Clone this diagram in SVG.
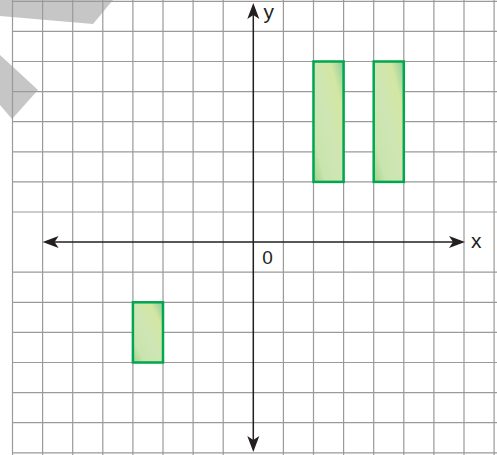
<svg xmlns="http://www.w3.org/2000/svg" width="497" height="455" viewBox="0 0 497 455">
<style>
.grid{stroke:#9a9a9a;stroke-width:1.2;fill:none}
.shade{fill:#c6c6c6}
.bar{stroke:#00a650;stroke-width:2.5;fill:url(#g)}
.axis{stroke:#231f20;stroke-width:1.5;fill:none}
.head{fill:#231f20}
.lbl{font-family:"Liberation Sans",Arial,sans-serif;fill:#231f20;text-anchor:middle}
</style>
<defs>
<linearGradient id="g" x1="1" y1="0" x2="0" y2="1">
<stop offset="0" stop-color="#86cc9c"/>
<stop offset="0.22" stop-color="#d3e6a2"/>
<stop offset="0.5" stop-color="#cfe6b4"/>
<stop offset="0.8" stop-color="#c9e4ae"/>
<stop offset="1" stop-color="#9dd38a"/>
</linearGradient>
</defs>
<rect width="497" height="455" fill="#ffffff"/>
<g id="shading">
<polygon class="shade" points="0,0 113,0 93,24 0,16"/>
<polygon class="shade" points="0,55 38,90 12,119 0,105"/>
</g>
<g id="grid">
<path class="grid" d="M12.5,0V455M42.6,0V455M72.7,0V455M102.8,0V455M132.9,0V455M163,0V455M193.1,0V455M223.2,0V455M283.4,0V455M313.5,0V455M343.6,0V455M373.7,0V455M403.8,0V455M433.9,0V455M464,0V455M494.1,0V455
M12,1.3H497M12,31.4H497M12,61.5H497M12,91.6H497M12,121.7H497M12,151.8H497M12,181.9H497M12,212H497M12,272.2H497M12,302.3H497M12,332.4H497M12,362.5H497M12,392.6H497M12,422.7H497M12,452.8H497"/>
</g>
<g id="connectors">
<line class="axis" x1="53" y1="242.1" x2="455" y2="242.1"/>
<line class="axis" x1="253.3" y1="13" x2="253.3" y2="442"/>
<path class="head" d="M465,242.1L449,236.1L453,242.1L449,248.1Z"/>
<path class="head" d="M42.6,242.1L58.6,236.1L54.6,242.1L58.6,248.1Z"/>
<path class="head" d="M253.3,3L247.3,19L253.3,15L259.3,19Z"/>
<path class="head" d="M253.3,452L247.3,436L253.3,440L259.3,436Z"/>
</g>
<g id="bar1"><rect class="bar" x="313.5" y="61.5" width="30.1" height="120.4"/></g>
<g id="bar2"><rect class="bar" x="373.7" y="61.5" width="30.1" height="120.4"/></g>
<g id="bar3"><rect class="bar" x="132.9" y="302.3" width="30.1" height="60.2"/></g>
<g id="labels">
<text class="lbl" x="268.8" y="18.5" font-size="21">y</text>
<text class="lbl" x="476.3" y="248.3" font-size="21">x</text>
<text class="lbl" x="267.5" y="264.3" font-size="19">0</text>
</g>
</svg>
